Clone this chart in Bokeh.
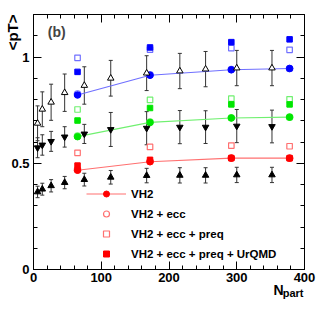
from bokeh.plotting import figure
from bokeh.models import (ColumnDataSource, Whisker, TeeHead, Label, Legend, LegendItem,
                          LinearAxis, FixedTicker, Title)
from bokeh.embed import file_html
from bokeh.resources import INLINE

# ---------------- data ----------------
npart_model = [65, 172, 292, 378]
blue_vh2 = [0.821, 0.914, 0.940, 0.946]
blue_ecc = [0.826, 0.916, 0.941, 0.946]
blue_preq = [0.996, 1.035, 1.042, 1.034]
blue_urqmd = [0.930, 1.045, 1.070, 1.083]
green_vh2 = [0.625, 0.692, 0.713, 0.717]
green_ecc = [0.628, 0.694, 0.714, 0.717]
green_preq = [0.753, 0.798, 0.804, 0.801]
green_urqmd = [0.701, 0.760, 0.777, 0.777]
red_vh2 = [0.467, 0.507, 0.524, 0.524]
red_ecc = [0.470, 0.509, 0.525, 0.524]
red_preq = [0.549, 0.577, 0.583, 0.580]
red_urqmd = [0.489, 0.516, 0.524, 0.524]

npart_data = [6, 13, 26, 46, 75, 114, 167, 216, 254, 300, 352]
data_top = [0.688, 0.754, 0.787, 0.832, 0.866, 0.900, 0.924, 0.934, 0.943, 0.948, 0.948]
err_top = [0.082, 0.082, 0.085, 0.088, 0.088, 0.084, 0.082, 0.083, 0.083, 0.083, 0.083]
data_mid = [0.573, 0.586, 0.603, 0.624, 0.638, 0.659, 0.665, 0.670, 0.670, 0.675, 0.673]
err_mid = [0.047, 0.048, 0.047, 0.048, 0.045, 0.080, 0.078, 0.078, 0.077, 0.078, 0.077]
data_low = [0.365, 0.378, 0.394, 0.409, 0.423, 0.434, 0.442, 0.443, 0.443, 0.445, 0.445]
err_low = [0.027, 0.028, 0.029, 0.029, 0.030, 0.032, 0.034, 0.036, 0.036, 0.036, 0.036]

x_ticks = [0, 100, 200, 300, 400]
x_minor = [20, 40, 60, 80, 120, 140, 160, 180, 220, 240, 260, 280, 320, 340, 360, 380]
y_ticks = [0, 0.5, 1]
y_tick_labels = ["0", "0.5", "1"]
y_minor = [0.1, 0.2, 0.3, 0.4, 0.6, 0.7, 0.8, 0.9, 1.1]

legend_labels = ["VH2", "VH2 + ecc", "VH2 + ecc + preq", "VH2 + ecc + preq + UrQMD"]
panel_tag = "(b)"

FONT = "Liberation Sans"

p = figure(width=316, height=300, x_range=(0, 400), y_range=(0, 1.2),
           output_backend="svg", toolbar_location=None,
           min_border_left=33, min_border_right=12, min_border_top=14, min_border_bottom=31)
p.xaxis.visible = False
p.yaxis.visible = False
p.grid.visible = False
p.outline_line_color = "black"
p.outline_line_width = 1
p.background_fill_color = "white"
p.border_fill_color = "white"


def style_axis(ax, standoff):
    ax.major_tick_in = 8
    ax.major_tick_out = 0
    ax.minor_tick_in = 4
    ax.minor_tick_out = 0
    ax.axis_line_color = "black"
    ax.major_tick_line_color = "black"
    ax.minor_tick_line_color = "black"
    ax.major_label_standoff = standoff
    ax.major_label_text_font = FONT
    ax.major_label_text_font_style = "bold"
    ax.major_label_text_color = "black"
    ax.major_label_text_font_size = "13px"


xt = FixedTicker(ticks=x_ticks, minor_ticks=x_minor)
yt = FixedTicker(ticks=y_ticks, minor_ticks=y_minor)

bx = LinearAxis(ticker=xt)
style_axis(bx, 3)
bx.major_label_overrides = {t: str(t) for t in x_ticks}
p.add_layout(bx, "below")
tx = LinearAxis(ticker=xt)
style_axis(tx, 0)
tx.major_label_overrides = {t: "" for t in x_ticks}
p.add_layout(tx, "above")
ly = LinearAxis(ticker=yt)
style_axis(ly, 4)
ly.major_label_overrides = {t: l for t, l in zip(y_ticks, y_tick_labels)}
p.add_layout(ly, "left")
ry = LinearAxis(ticker=yt)
style_axis(ry, 0)
ry.major_label_overrides = {t: "" for t in y_ticks}
p.add_layout(ry, "right")

# axis titles (ROOT style: at the far end of each axis)
p.add_layout(Title(text="<pT>", align="right", offset=0, standoff=-25,
                   text_font=FONT, text_font_style="bold", text_font_size="15px",
                   text_color="black", text_line_height=-0.2), "left")
p.add_layout(Title(text="N", align="right", offset=21, standoff=-10,
                   vertical_align="bottom",
                   text_font=FONT, text_font_style="bold", text_font_size="14px",
                   text_color="black", text_line_height=-0.4), "below")
p.add_layout(Title(text="part", align="right", offset=1, standoff=-12,
                   vertical_align="top",
                   text_font=FONT, text_font_style="bold", text_font_size="11px",
                   text_color="black", text_line_height=-0.5), "below")

# ---------------- model curves ----------------
series = [
    ("#0000ff", "#7070ff", blue_vh2, blue_ecc, blue_preq, blue_urqmd),
    ("#00e600", "#70f070", green_vh2, green_ecc, green_preq, green_urqmd),
    ("#ff0000", "#ff7070", red_vh2, red_ecc, red_preq, red_urqmd),
]
legend_renderers = None
for col, light, vh2, ecc, preq, urq in series:
    ln = p.line(npart_model, vh2, line_color=light, line_width=1.2)
    c_ecc = p.scatter(npart_model, ecc, marker="circle", size=6.5, fill_color="white",
                      line_color=light, line_width=1.2)
    c_vh2 = p.scatter(npart_model, vh2, marker="circle", size=6.5, fill_color=col, line_color=col)
    s_preq = p.scatter(npart_model, preq, marker="square", size=5.5, fill_color="white",
                       line_color=light, line_width=1.2)
    s_urq = p.scatter(npart_model, urq, marker="square", size=5.5, fill_color=col, line_color=col)
    legend_renderers = (ln, c_vh2, c_ecc, s_preq, s_urq)

# ---------------- data points ----------------
ebar_color = "#333333"
for ys, es, marker, fill in [(data_top, err_top, "triangle", "white"),
                             (data_mid, err_mid, "inverted_triangle", "black"),
                             (data_low, err_low, "triangle", "black")]:
    src = ColumnDataSource(dict(x=npart_data, y=ys,
                                lo=[a - b for a, b in zip(ys, es)],
                                hi=[a + b for a, b in zip(ys, es)]))
    w = Whisker(base="x", lower="lo", upper="hi", source=src,
                line_color=ebar_color, line_width=1,
                upper_head=TeeHead(size=4, line_color=ebar_color, line_width=1),
                lower_head=TeeHead(size=4, line_color=ebar_color, line_width=1))
    p.add_layout(w)
    p.scatter("x", "y", source=src, marker=marker, size=6.5, fill_color=fill,
              line_color="black", line_width=1)

# ---------------- legend ----------------
ln, c_vh2, c_ecc, s_preq, s_urq = legend_renderers
items = [LegendItem(label=legend_labels[0], renderers=[ln, c_vh2]),
         LegendItem(label=legend_labels[1], renderers=[c_ecc]),
         LegendItem(label=legend_labels[2], renderers=[s_preq]),
         LegendItem(label=legend_labels[3], renderers=[s_urq])]
leg = Legend(items=items, location=(53, 8), glyph_width=40, glyph_height=15,
             label_height=15, spacing=5, label_standoff=5, padding=0, margin=0,
             border_line_color=None, background_fill_alpha=0,
             label_text_font=FONT, label_text_font_style="bold",
             label_text_font_size="11.5px", label_text_color="black")
p.add_layout(leg)

p.add_layout(Label(x=21, y=1.12, text=panel_tag,
                   text_align="left", text_baseline="middle",
                   text_font=FONT, text_font_style="bold", text_font_size="14px"))

open("out.html", "w").write(file_html(p, INLINE))
